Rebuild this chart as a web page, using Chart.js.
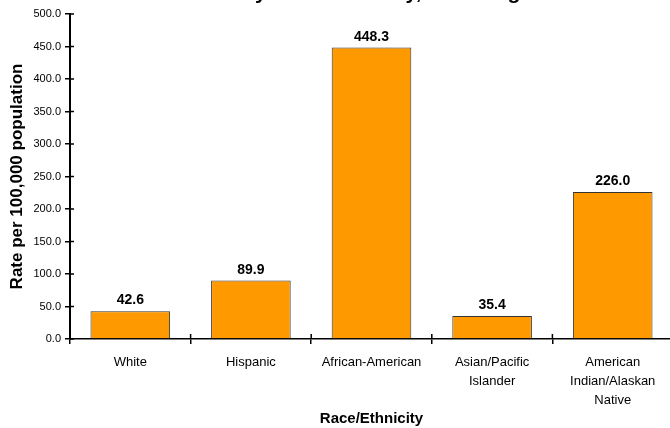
<!DOCTYPE html>
<html>
<head>
<meta charset="utf-8">
<script src="https://cdn.jsdelivr.net/npm/chart.js@4/dist/chart.umd.min.js"></script>
<style>
  html, body { margin: 0; padding: 0; background: #fff; overflow: hidden; }
  #wrap { width: 670px; height: 428px; overflow: hidden; }
</style>
</head>
<body>
<div id="wrap"><canvas id="chart" width="676" height="428"></canvas></div>
<script>
const categories = ['White', 'Hispanic', 'African-American', ['Asian/Pacific', 'Islander'], ['American', 'Indian/Alaskan', 'Native']];
const rates = [42.6, 89.9, 448.3, 35.4, 226.0];
const titleText = 'Gonorrhea Rates by Race/Ethnicity, Teens Aged 15-19';

const FONT = '"Liberation Sans", Arial, sans-serif';

// title sits mostly above the picture, only descenders show
const clippedTitle = {
  id: 'clippedTitle',
  afterDraw(chart) {
    const ctx = chart.ctx;
    ctx.save();
    ctx.font = 'bold 21px ' + FONT;
    ctx.fillStyle = '#000';
    ctx.textBaseline = 'alphabetic';
    const x0 = 255 - ctx.measureText('Gonorrhea Rates b').width;
    ctx.fillText(titleText, x0, -1);
    ctx.restore();
  }
};

// value above each bar
const valueLabels = {
  id: 'valueLabels',
  afterDatasetsDraw(chart) {
    const ctx = chart.ctx;
    const meta = chart.getDatasetMeta(0);
    ctx.save();
    ctx.font = 'bold 14px ' + FONT;
    ctx.fillStyle = '#000';
    ctx.textAlign = 'center';
    ctx.textBaseline = 'alphabetic';
    meta.data.forEach((bar, i) => {
      ctx.fillText(rates[i].toFixed(1), bar.x, bar.y - 7);
    });
    ctx.restore();
  }
};

// tick marks that cross the axis lines
const crossTicks = {
  id: 'crossTicks',
  afterDraw(chart) {
    const ctx = chart.ctx;
    const xs = chart.scales.x, ys = chart.scales.y;
    ctx.save();
    ctx.strokeStyle = '#000';
    ctx.lineWidth = 1.5;
    ctx.beginPath();
    ys.ticks.forEach(t => {
      const y = ys.getPixelForValue(t.value);
      ctx.moveTo(xs.left, y);
      ctx.lineTo(xs.left + 4, y);
    });
    for (let i = 1; i < categories.length; i++) {
      const x = (xs.getPixelForValue(i) + xs.getPixelForValue(i - 1)) / 2;
      ctx.moveTo(x, ys.bottom);
      ctx.lineTo(x, ys.bottom - 5);
    }
    ctx.stroke();
    ctx.restore();
  }
};

new Chart(document.getElementById('chart'), {
  type: 'bar',
  data: {
    labels: categories,
    datasets: [{
      data: rates,
      backgroundColor: '#FF9900',
      borderColor: '#333333',
      borderWidth: 1,
      barPercentage: 0.66,
      categoryPercentage: 1.0
    }]
  },
  options: {
    responsive: false,
    animation: false,
    devicePixelRatio: 1,
    layout: { padding: { top: 14, right: 3, left: 0, bottom: 0 } },
    plugins: {
      legend: { display: false },
      tooltip: { enabled: false },
      title: { display: false }
    },
    scales: {
      x: {
        offset: true,
        grid: { offset: true, drawOnChartArea: false, color: '#000', lineWidth: 1.5, tickLength: 5 },
        border: { color: '#000', width: 1.5 },
        ticks: {
          color: '#000',
          padding: 9,
          maxRotation: 0,
          autoSkip: false,
          font: { family: FONT, size: 13, lineHeight: 1.45 }
        },
        title: {
          display: true,
          text: 'Race/Ethnicity',
          color: '#000',
          font: { family: FONT, size: 15, weight: 'bold' },
          padding: { top: 0, bottom: 0 }
        },
        afterFit(s) { s.height = 89; }
      },
      y: {
        min: 0,
        max: 500,
        ticks: {
          stepSize: 50,
          color: '#000',
          padding: 4,
          font: { family: FONT, size: 11 },
          callback: v => Number(v).toFixed(1)
        },
        grid: { drawOnChartArea: false, color: '#000', lineWidth: 1.5, tickLength: 5 },
        border: { color: '#000', width: 2 },
        title: {
          display: true,
          text: 'Rate per 100,000 population',
          color: '#000',
          font: { family: FONT, size: 17, weight: 'bold' },
          padding: { top: 7, bottom: 4 }
        },
        afterFit(s) { s.width = 70; }
      }
    }
  },
  plugins: [clippedTitle, valueLabels, crossTicks]
});
</script>
</body>
</html>
